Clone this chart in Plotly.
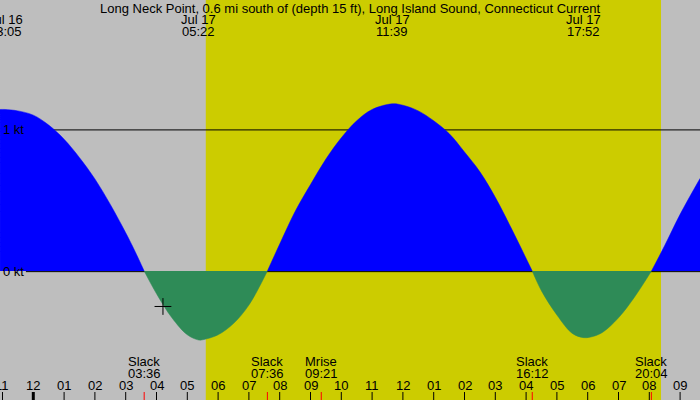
import plotly.graph_objects as go

# ---- data (hours from Jul 17 00:00, current speed in knots) ----
hours = [-1.08, -0.917, -0.5, 0.0, 0.5, 1.0, 1.5, 2.0, 2.5, 3.0, 3.3, 3.6,
         4.0, 4.5, 5.0, 5.37, 5.5, 6.0, 6.5, 7.0, 7.6,
         8.0, 8.5, 9.0, 9.5, 10.0, 10.5, 11.0, 11.65, 12.0, 12.5, 13.0, 13.5,
         14.0, 14.5, 15.0, 15.5, 16.2,
         16.5, 17.0, 17.5, 17.87, 18.2, 18.5, 19.0, 19.5, 20.07,
         20.5, 21.0, 21.65]
speed = [1.14, 1.14, 1.13, 1.10, 1.03, 0.93, 0.80, 0.65, 0.47, 0.27, 0.14, 0.0,
         -0.16, -0.33, -0.45, -0.487, -0.485, -0.45, -0.37, -0.24, 0.0,
         0.19, 0.42, 0.61, 0.79, 0.94, 1.06, 1.14, 1.18, 1.17, 1.13, 1.06, 0.97,
         0.84, 0.70, 0.52, 0.31, 0.0,
         -0.14, -0.31, -0.44, -0.47, -0.46, -0.43, -0.33, -0.19, 0.0,
         0.18, 0.40, 0.654]

title = "Long Neck Point, 0.6 mi south of (depth 15 ft), Long Island Sound, Connecticut Current"

max_dates = ["Jul 16", "Jul 17", "Jul 17", "Jul 17"]
max_times = ["23:05", "05:22", "11:39", "17:52"]
max_hours = [-0.917, 5.367, 11.65, 17.867]

event_names = ["Slack", "Slack", "Mrise", "Slack", "Slack"]
event_times = ["03:36", "07:36", "09:21", "16:12", "20:04"]

hour_ticks = list(range(-1, 22))
hour_labels = ["11", "12", "01", "02", "03", "04", "05", "06", "07", "08", "09", "10",
               "11", "12", "01", "02", "03", "04", "05", "06", "07", "08", "09"]

sunrise, sunset = 5.6, 20.38
now_hour, now_speed = 4.21, -0.25
ref_levels = [0, 1]
ref_labels = ["0 kt", "1 kt"]

X_RANGE = [-1.081, 21.646]
Y_RANGE = [-0.910, 1.9125]
PX_PER_KT = 400.0 / (Y_RANGE[1] - Y_RANGE[0])

GRAY = "#BEBEBE"
YELLOW = "#CCCC00"
BLUE = "#0000FF"
GREEN = "#2E8B57"
FONT = "Liberation Sans, Arial, sans-serif"
FSIZE = 13

def to_h(s):
    hh, mm = s.split(":")
    return int(hh) + int(mm) / 60.0

fig = go.Figure()

# split into flood/ebb segments at slack (zero) points
segs, cur = [], []
for t, v in zip(hours, speed):
    cur.append((t, v))
    if v == 0 and len(cur) > 1:
        segs.append(cur)
        cur = [(t, v)]
if len(cur) > 1:
    segs.append(cur)

for s in segs:
    xs = [p[0] for p in s]
    ys = [p[1] for p in s]
    col = BLUE if max(ys) > 0 else GREEN
    fig.add_trace(go.Scatter(x=xs, y=ys, mode="lines", line=dict(color=col, width=0.5, shape="spline"),
                             fill="tozeroy", fillcolor=col, hoverinfo="skip", showlegend=False))

fig.add_trace(go.Scatter(x=[now_hour], y=[now_speed], mode="markers",
                         marker=dict(symbol="cross-thin", size=12, line=dict(color="black", width=1)),
                         showlegend=False, hoverinfo="skip"))

shapes = [dict(type="rect", xref="x", yref="paper", x0=sunrise, x1=sunset, y0=0, y1=1,
               fillcolor=YELLOW, line=dict(width=0), layer="below")]
for lv in ref_levels:
    yy = lv - 0.6 / PX_PER_KT
    shapes.append(dict(type="line", xref="x", yref="y", x0=-0.24, x1=X_RANGE[1], y0=yy, y1=yy,
                       line=dict(color="black", width=1), layer="below"))
for h in hour_ticks:
    shapes.append(dict(type="line", xref="x", yref="paper", x0=h, x1=h, y0=0, y1=0.02,
                       line=dict(color="black", width=3 if h == 0 else 1), layer="above"))
for et in event_times:
    h = to_h(et)
    shapes.append(dict(type="line", xref="x", yref="paper", x0=h, x1=h, y0=0, y1=0.02,
                       line=dict(color="red", width=1), layer="above"))

ann = []
def txt(x, ypix, text, xref="x"):
    ann.append(dict(x=x, y=1 - ypix / 400.0, xref=xref, yref="paper", text=text, showarrow=False,
                    xanchor="center", yanchor="middle", font=dict(family=FONT, size=FSIZE, color="black")))

txt(0.5, 8, title, xref="paper")
for d, tm, h in zip(max_dates, max_times, max_hours):
    txt(h, 19.5, d)
    txt(h, 31, tm)
for nm, et in zip(event_names, event_times):
    h = to_h(et)
    txt(h, 361.5, nm)
    txt(h, 373.5, et)
for h, lb in zip(hour_ticks, hour_labels):
    txt(h, 385.5, lb)
for lv, lb in zip(ref_levels, ref_labels):
    ann.append(dict(x=0, y=lv, xref="paper", yref="y", text=lb, showarrow=False,
                    xanchor="left", yanchor="middle", xshift=1,
                    font=dict(family=FONT, size=FSIZE, color="black")))

fig.update_layout(
    width=700, height=400, margin=dict(l=0, r=0, t=0, b=0),
    paper_bgcolor=GRAY, plot_bgcolor=GRAY,
    xaxis=dict(range=X_RANGE, visible=False, fixedrange=True),
    yaxis=dict(range=Y_RANGE, visible=False, fixedrange=True),
    shapes=shapes, annotations=ann, showlegend=False,
)

fig.write_html("out.html")
